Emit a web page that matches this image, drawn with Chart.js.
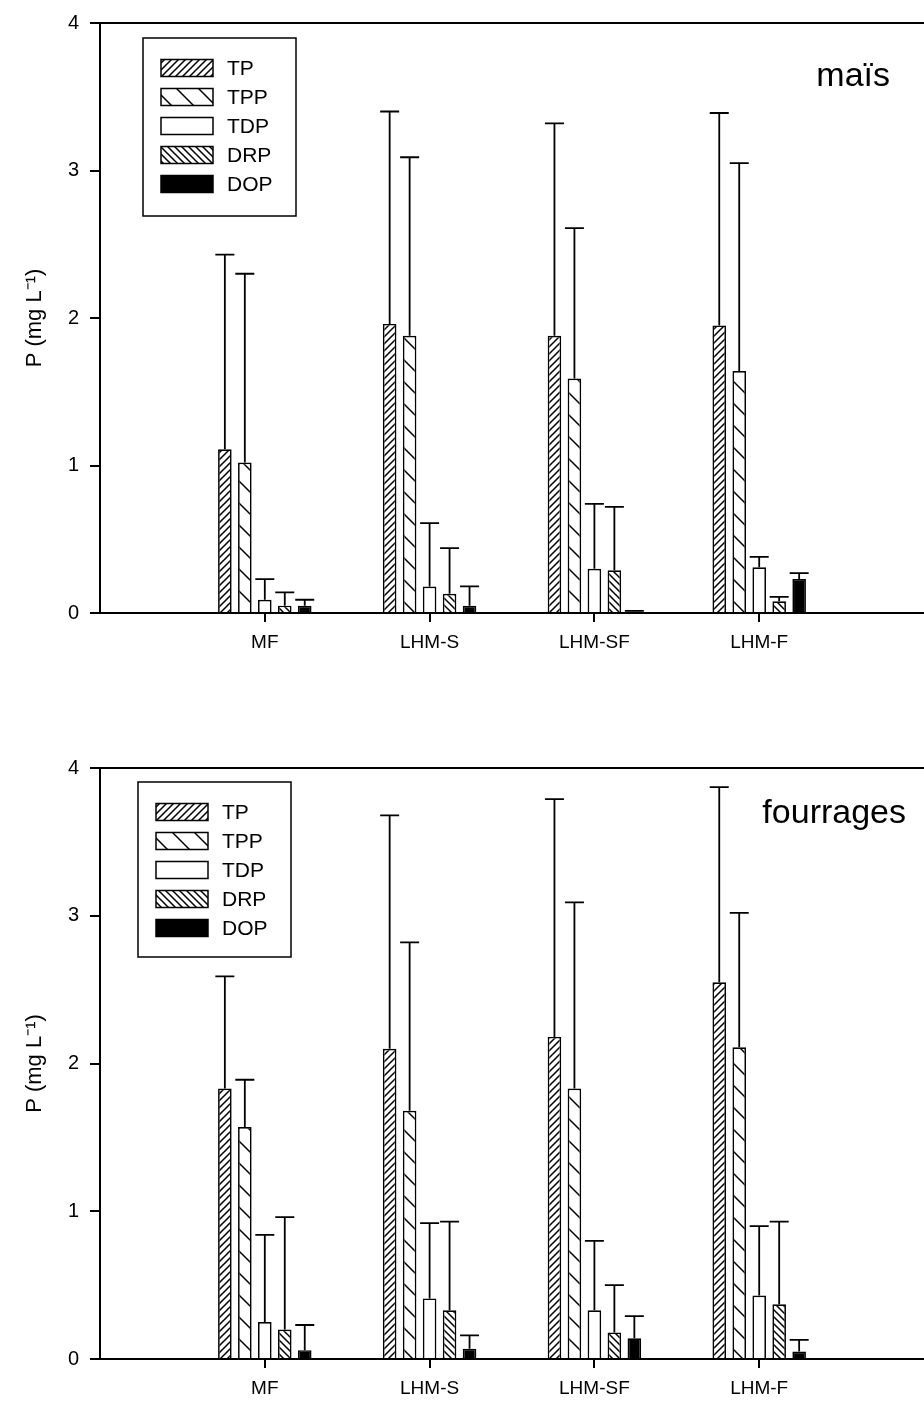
<!DOCTYPE html>
<html>
<head>
<meta charset="utf-8">
<script src="https://cdn.jsdelivr.net/npm/chart.js@4.4.1/dist/chart.umd.min.js"></script>
<style>
  body { margin: 0; background: #fff; }
  .panel { position: relative; width: 924px; height: 704px; }
</style>
</head>
<body>
<div class="panel"><canvas id="maisChart" width="924" height="704"></canvas></div>
<div class="panel"><canvas id="fourragesChart" width="924" height="704"></canvas></div>
<script>
const categories = ["", "MF", "LHM-S", "LHM-SF", "LHM-F", ""];
const seriesNames = ["TP", "TPP", "TDP", "DRP", "DOP"];
const yTicks = [0, 1, 2, 3, 4];

// maïs panel: means and upper error (sd)
const maisTP = [1.11, 1.96, 1.88, 1.95];
const maisTPsd = [1.32, 1.44, 1.44, 1.44];
const maisTPP = [1.02, 1.88, 1.59, 1.64];
const maisTPPsd = [1.28, 1.21, 1.02, 1.41];
const maisTDP = [0.09, 0.18, 0.30, 0.31];
const maisTDPsd = [0.14, 0.43, 0.44, 0.07];
const maisDRP = [0.05, 0.13, 0.29, 0.08];
const maisDRPsd = [0.09, 0.31, 0.43, 0.03];
const maisDOP = [0.05, 0.05, 0.01, 0.23];
const maisDOPsd = [0.04, 0.13, 0.005, 0.04];

// fourrages panel
const fourTP = [1.83, 2.10, 2.18, 2.55];
const fourTPsd = [0.76, 1.58, 1.61, 1.32];
const fourTPP = [1.57, 1.68, 1.83, 2.11];
const fourTPPsd = [0.32, 1.14, 1.26, 0.91];
const fourTDP = [0.25, 0.41, 0.33, 0.43];
const fourTDPsd = [0.59, 0.51, 0.47, 0.47];
const fourDRP = [0.20, 0.33, 0.18, 0.37];
const fourDRPsd = [0.76, 0.60, 0.32, 0.56];
const fourDOP = [0.06, 0.07, 0.14, 0.05];
const fourDOPsd = [0.17, 0.09, 0.15, 0.08];

const FONT = "'Liberation Sans', Arial, Helvetica, sans-serif";

function hatch(dir, gap) {
  const c = document.createElement("canvas");
  c.width = gap; c.height = gap;
  const g = c.getContext("2d");
  g.fillStyle = "#fff";
  g.fillRect(0, 0, gap, gap);
  g.strokeStyle = "#000";
  g.lineWidth = 1.5;
  g.beginPath();
  if (dir === "/") {
    g.moveTo(-1, gap + 1); g.lineTo(gap + 1, -1);
    g.moveTo(-gap / 2 - 1, gap / 2 + 1); g.lineTo(gap / 2 + 1, -gap / 2 - 1);
    g.moveTo(gap / 2 - 1, gap * 1.5 + 1); g.lineTo(gap * 1.5 + 1, gap / 2 - 1);
  } else {
    g.moveTo(-1, -1); g.lineTo(gap + 1, gap + 1);
    g.moveTo(-gap / 2 - 1, gap / 2 - 1); g.lineTo(gap / 2 + 1, gap * 1.5 + 1);
    g.moveTo(gap / 2 - 1, -gap / 2 - 1); g.lineTo(gap * 1.5 + 1, gap / 2 + 1);
  }
  g.stroke();
  return g.createPattern(c, "repeat");
}

const fills = [hatch("/", 7), hatch("\\", 22), "#fff", hatch("\\", 7), "#000"];

function pad(arr) {
  return [null].concat(arr, [null]);
}

function makeDatasets(means, sds) {
  return seriesNames.map(function (name, i) {
    return {
      label: name,
      data: pad(means[i]),
      sd: pad(sds[i]),
      backgroundColor: fills[i],
      borderColor: "#000",
      borderWidth: 1.7,
      categoryPercentage: 0.606,
      barPercentage: 0.68
    };
  });
}

// upward error bars with a cap
const errorBars = {
  id: "errorBars",
  afterDatasetsDraw(chart) {
    const ctx = chart.ctx;
    const y = chart.scales.y;
    ctx.save();
    ctx.strokeStyle = "#000";
    ctx.lineWidth = 1.8;
    chart.data.datasets.forEach(function (ds, di) {
      const meta = chart.getDatasetMeta(di);
      meta.data.forEach(function (bar, j) {
        const v = ds.data[j];
        if (v === null || v === undefined) return;
        const top = y.getPixelForValue(v + ds.sd[j]);
        ctx.beginPath();
        ctx.moveTo(bar.x, bar.y);
        ctx.lineTo(bar.x, top);
        ctx.moveTo(bar.x - 9.5, top);
        ctx.lineTo(bar.x + 9.5, top);
        ctx.stroke();
      });
    });
    ctx.restore();
  }
};

// top frame line, legend box and panel label
const decorations = {
  id: "decorations",
  afterDraw(chart, args, opts) {
    const ctx = chart.ctx;
    const a = chart.chartArea;
    ctx.save();
    ctx.strokeStyle = "#000";
    ctx.lineWidth = 2;
    ctx.beginPath();
    ctx.moveTo(a.left, a.top);
    ctx.lineTo(chart.width, a.top);
    ctx.stroke();

    // legend
    const bx = a.left + opts.boxX, by = a.top + opts.boxY;
    ctx.lineWidth = 1.5;
    ctx.fillStyle = "#fff";
    ctx.fillRect(bx, by, 153, opts.boxH);
    ctx.strokeRect(bx, by, 153, opts.boxH);
    ctx.font = "21px " + FONT;
    ctx.textBaseline = "middle";
    chart.data.datasets.forEach(function (ds, i) {
      const cy = by + opts.rowTop + i * opts.rowGap;
      ctx.fillStyle = ds.backgroundColor;
      ctx.fillRect(bx + 18, cy - 8.5, 52, 17);
      ctx.strokeRect(bx + 18, cy - 8.5, 52, 17);
      ctx.fillStyle = "#000";
      ctx.fillText(ds.label, bx + 84, cy + 1);
    });

    // panel name
    ctx.font = "34px " + FONT;
    ctx.textAlign = "right";
    ctx.textBaseline = "alphabetic";
    ctx.fillText(opts.name, a.right - opts.nameRight, a.top + opts.nameY);
    ctx.restore();
  }
};

function makeChart(id, means, sds, xHeight, topPad, deco) {
  return new Chart(document.getElementById(id), {
    type: "bar",
    data: {
      labels: categories,
      datasets: makeDatasets(means, sds)
    },
    plugins: [errorBars, decorations],
    options: {
      responsive: false,
      animation: false,
      layout: { autoPadding: false, padding: { top: topPad, left: 0, right: 0, bottom: 0 } },
      plugins: {
        legend: { display: false },
        tooltip: { enabled: false },
        decorations: deco
      },
      scales: {
        x: {
          type: "category",
          offset: false,
          grid: {
            offset: false,
            drawOnChartArea: false,
            tickLength: 9,
            lineWidth: 2,
            color: function (c) {
              return (c.index === 0 || c.index === categories.length - 1) ? "rgba(0,0,0,0)" : "#000";
            }
          },
          border: { color: "#000", width: 2 },
          ticks: {
            color: "#000",
            font: { size: 19, family: FONT },
            padding: 9,
            maxRotation: 0,
            autoSkip: false
          },
          afterFit: function (s) {
            s.height = xHeight;
            s.paddingLeft = 0;
            s.paddingRight = 0;
          }
        },
        y: {
          min: yTicks[0],
          max: yTicks[yTicks.length - 1],
          grid: {
            drawOnChartArea: false,
            tickLength: 10,
            lineWidth: 2,
            color: "#000"
          },
          border: { color: "#000", width: 2 },
          ticks: {
            stepSize: 1,
            color: "#000",
            font: { size: 20, family: FONT },
            padding: 11
          },
          title: {
            display: true,
            text: "P (mg L\u207B\u00B9)",
            color: "#000",
            font: { size: 22, family: FONT },
            padding: { top: 22, bottom: 0 }
          },
          afterFit: function (s) { s.width = 100; }
        }
      }
    }
  });
}

makeChart("maisChart",
  [maisTP, maisTPP, maisTDP, maisDRP, maisDOP],
  [maisTPsd, maisTPPsd, maisTDPsd, maisDRPsd, maisDOPsd],
  91, 20,
  { name: "maïs", nameRight: 34, nameY: 63, boxX: 43, boxY: 15, boxH: 178, rowTop: 30, rowGap: 29 });

makeChart("fourragesChart",
  [fourTP, fourTPP, fourTDP, fourDRP, fourDOP],
  [fourTPsd, fourTPPsd, fourTDPsd, fourDRPsd, fourDOPsd],
  49, 64,
  { name: "fourrages", nameRight: 18, nameY: 55, boxX: 38, boxY: 14, boxH: 175, rowTop: 30, rowGap: 29 });
</script>
</body>
</html>
